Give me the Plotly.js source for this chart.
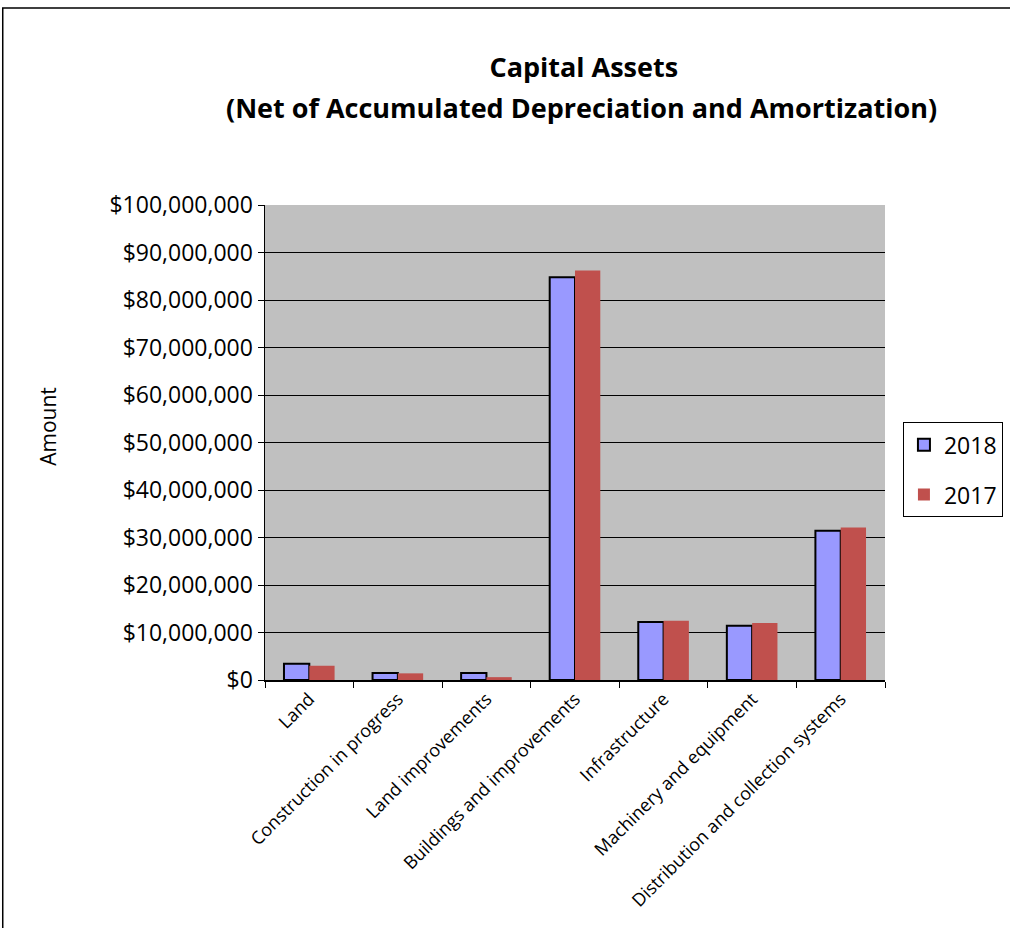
<!DOCTYPE html>
<html>
<head>
<meta charset="utf-8">
<script src="https://cdn.plot.ly/plotly-3.0.1.min.js"></script>
<style>
html,body{margin:0;padding:0;background:#fff;overflow:hidden;}
#chart{width:1010px;height:928px;}
</style>
</head>
<body>
<div id="chart"></div>
<script>
var categories = ["Land", "Construction in progress", "Land improvements", "Buildings and improvements", "Infrastructure", "Machinery and equipment", "Distribution and collection systems"];
var values2018 = [3400000, 1500000, 1500000, 84800000, 12200000, 11400000, 31400000];
var values2017 = [3000000, 1400000, 600000, 86200000, 12500000, 12000000, 32100000];
var yTickVals = [0, 10000000, 20000000, 30000000, 40000000, 50000000, 60000000, 70000000, 80000000, 90000000, 100000000];
var yTickText = ["$0", "$10,000,000", "$20,000,000", "$30,000,000", "$40,000,000", "$50,000,000", "$60,000,000", "$70,000,000", "$80,000,000", "$90,000,000", "$100,000,000"];
var titleLine1 = "Capital Assets";
var titleLine2 = "(Net of Accumulated Depreciation and Amortization)";

var FONT = "Open Sans, Lato, sans-serif";

var traces = [
  {type: "bar", name: "2018", x: categories, y: values2018, legendgroup: "a",
   marker: {color: "#9999FF", line: {color: "#000000", width: 2}}, hoverinfo: "y"},
  {type: "bar", name: "2017", x: categories, y: values2017, legendgroup: "b",
   marker: {color: "#C0504D", line: {width: 0}}, hoverinfo: "y"}
];

var layout = {
  width: 1010, height: 928,
  margin: {l: 265, r: 125, t: 205, b: 248, autoexpand: false},
  paper_bgcolor: "#FFFFFF",
  plot_bgcolor: "#C0C0C0",
  font: {family: FONT, color: "#000000"},
  title: {
    text: "<b>" + titleLine1 + "</b>",
    font: {family: FONT, size: 27, color: "#000"},
    xref: "container", yref: "container",
    x: 0.578, xanchor: "center", y: 0.9267, yanchor: "middle"
  },
  barmode: "group",
  bargap: 0.4286,
  bargroupgap: 0,
  xaxis: {
    type: "category",
    tickangle: -45,
    tickson: "boundaries",
    ticks: "outside", ticklen: 6, tickcolor: "#000", tickwidth: 1,
    showline: true, linecolor: "#000", linewidth: 1.5, mirror: false,
    showgrid: false,
    tickfont: {family: FONT, size: 18, color: "#000"}
  },
  yaxis: {
    range: [0, 100000000],
    tickvals: yTickVals, ticktext: yTickText,
    ticks: "outside", ticklen: 6, tickcolor: "#000",
    showline: true, linecolor: "#000", linewidth: 1.5,
    showgrid: true, gridcolor: "#000", gridwidth: 1,
    zeroline: false,
    tickfont: {family: FONT, size: 23, color: "#000"}
  },
  showlegend: true,
  legend: {
    xref: "container", yref: "container",
    x: 0.894, xanchor: "left", y: 0.545, yanchor: "top",
    bgcolor: "#FFFFFF", bordercolor: "#000", borderwidth: 1,
    font: {family: FONT, size: 23, color: "#000"},
    traceorder: "grouped", tracegroupgap: 17,
    itemwidth: 30
  },
  annotations: [{
    text: "<b>" + titleLine2 + "</b>", xref: "paper", yref: "paper",
    x: 0.511, y: 1.2063, xanchor: "center", yanchor: "middle",
    showarrow: false,
    font: {family: FONT, size: 27, color: "#000"}
  }, {
    text: "Amount", xref: "paper", yref: "paper",
    x: -0.35, y: 0.533, xanchor: "center", yanchor: "middle",
    textangle: -90, showarrow: false,
    font: {family: FONT, size: 21, color: "#000"}
  }],
  shapes: [{
    type: "rect", xref: "paper", yref: "paper",
    x0: -0.423, x1: 1.21, y0: -0.56, y1: 1.4147,
    line: {color: "#000", width: 1.5}, fillcolor: "rgba(0,0,0,0)", layer: "below"
  }]
};

Plotly.newPlot("chart", traces, layout, {displayModeBar: false, staticPlot: true});
</script>
</body>
</html>
